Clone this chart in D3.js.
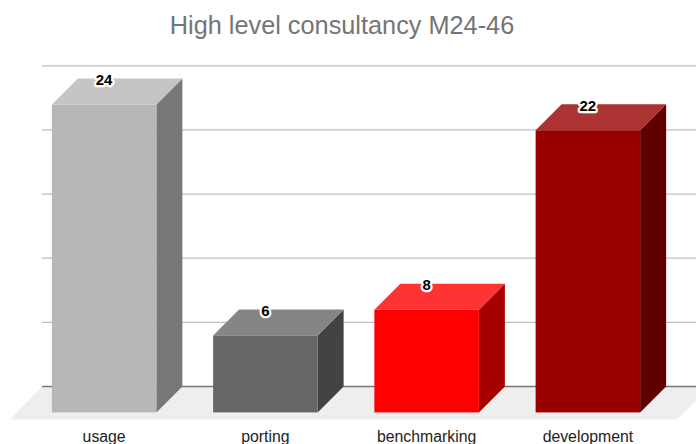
<!DOCTYPE html>
<html>
<head>
<meta charset="utf-8">
<script src="https://cdnjs.cloudflare.com/ajax/libs/d3/7.8.5/d3.min.js"></script>
<style>
  html, body { margin: 0; padding: 0; background: #fff; }
  svg { display: block; font-family: "Liberation Sans", Arial, sans-serif; }
</style>
</head>
<body>
<svg id="chart" width="696" height="444"></svg>
<script>
const chartTitle = "High level consultancy M24-46";
const categories = ["usage", "porting", "benchmarking", "development"];
const values = [24, 6, 8, 22];
const frontColors = ["#b7b7b7", "#666666", "#ff0000", "#990000"];
const topColors = ["#c5c5c5", "#858585", "#ff3333", "#ad3333"];
const sideColors = ["#777777", "#434343", "#a60000", "#600000"];

const width = 696, height = 444;
const depth = 26;               // oblique offset of the 3D extrusion
const frontBase = 412.4;        // y of value 0 on the front plane

const svg = d3.select("#chart");

const x = d3.scaleBand().domain(categories)
  .range([23.5, 668.5]).paddingInner(0.352).paddingOuter(0.176);
const y = d3.scaleLinear().domain([0, 25]).range([frontBase, frontBase - 320.6]);

const line = d3.line();

// Floor of the 3D plot, clipped by the right edge of the page
svg.append("path")
  .attr("d", line([[10, frontBase + 7], [42, y(0) - depth], [width, y(0) - depth],
                   [width, frontBase - 12], [677, frontBase + 7]]) + "Z")
  .attr("fill", "#eeeeee");

// Back wall gridlines
svg.append("g").selectAll("line")
  .data(y.ticks(5))
  .join("line")
  .attr("x1", 42).attr("x2", width)
  .attr("y1", d => y(d) - depth).attr("y2", d => y(d) - depth)
  .attr("stroke", d => d === 0 ? "#777777" : "#bdbdbd")
  .attr("stroke-width", d => d === 0 ? 1.5 : 1.2);

const bars = svg.append("g").selectAll("g")
  .data(categories.map((c, i) => ({ c, v: values[i], i })))
  .join("g");

// Side face
bars.append("path")
  .attr("fill", d => sideColors[d.i])
  .attr("d", d => {
    const r = x(d.c) + x.bandwidth();
    return line([[r, y(0)], [r + depth, y(0) - depth], [r + depth, y(d.v) - depth], [r, y(d.v)]]) + "Z";
  });

// Top face
bars.append("path")
  .attr("fill", d => topColors[d.i])
  .attr("d", d => {
    const l = x(d.c), r = l + x.bandwidth(), t = y(d.v);
    return line([[l, t], [l + depth, t - depth], [r + depth, t - depth], [r, t]]) + "Z";
  });

// Front face
bars.append("rect")
  .attr("x", d => x(d.c))
  .attr("y", d => y(d.v))
  .attr("width", x.bandwidth())
  .attr("height", d => y(0) - y(d.v))
  .attr("fill", d => frontColors[d.i]);

// Value labels sit on the back edge of each top face
bars.append("text")
  .attr("x", d => x(d.c) + x.bandwidth() / 2)
  .attr("y", d => y(d.v) - depth + 6.5)
  .attr("text-anchor", "middle")
  .attr("font-size", 15)
  .attr("font-weight", "bold")
  .attr("fill", "#000")
  .attr("stroke", "#fff")
  .attr("stroke-width", 4.5)
  .attr("stroke-linejoin", "round")
  .attr("paint-order", "stroke")
  .text(d => d.v);

// Category labels
svg.append("g").selectAll("text")
  .data(categories)
  .join("text")
  .attr("x", d => x(d) + x.bandwidth() / 2)
  .attr("y", 442)
  .attr("text-anchor", "middle")
  .attr("font-size", 15.8)
  .attr("fill", "#222222")
  .text(d => d);

svg.append("text")
  .attr("x", 342).attr("y", 34)
  .attr("text-anchor", "middle")
  .attr("font-size", 25.3)
  .attr("fill", "#757575")
  .text(chartTitle);
</script>
</body>
</html>
